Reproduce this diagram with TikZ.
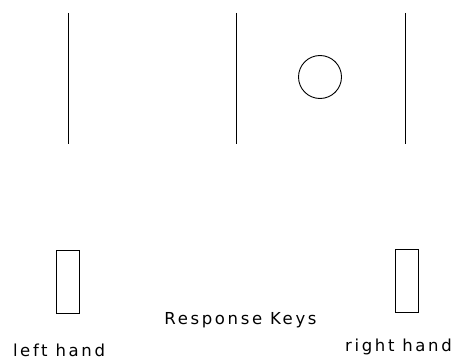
\documentclass[tikz,border=0pt]{standalone}
\usepackage{fontspec}
\setmainfont[LetterSpace=16]{DejaVu Sans}
\usepackage{tikz}

\begin{document}
\begin{tikzpicture}[x=1pt,y=1pt,yscale=-1,xscale=1,
  bar/.style={line width=0.9pt},
  keybox/.style={draw,line width=0.7pt,minimum width=23pt,minimum height=63pt,inner sep=0pt},
  label/.style={inner sep=0.75pt,font=\fontsize{16.5}{19}\selectfont}]
\useasboundingbox (0,0) rectangle (458,361);

%Straight Lines
\draw [bar]  (68,13) -- (68,144) ;
%Straight Lines
\draw [bar]  (236,13) -- (236,144) ;
%Straight Lines
\draw [bar]  (405,13) -- (405,144) ;
%Shape: Circle
\draw [line width=0.9pt]  (320,77) circle (21.5) ;

%Shape: Rectangle
\node [keybox] (leftkey) at (67.5,281.5) {};
%Shape: Rectangle
\node [keybox] (rightkey) at (406.5,281) {};

% Text Node
\node [label] (keys) at (240.5,320) {Response Keys};
% Text Node
\node [label] (lefthand) at (59,350) {left hand};
% Text Node
\node [label] (righthand) at (398.5,347) {right hand};

\end{tikzpicture}
\end{document}
